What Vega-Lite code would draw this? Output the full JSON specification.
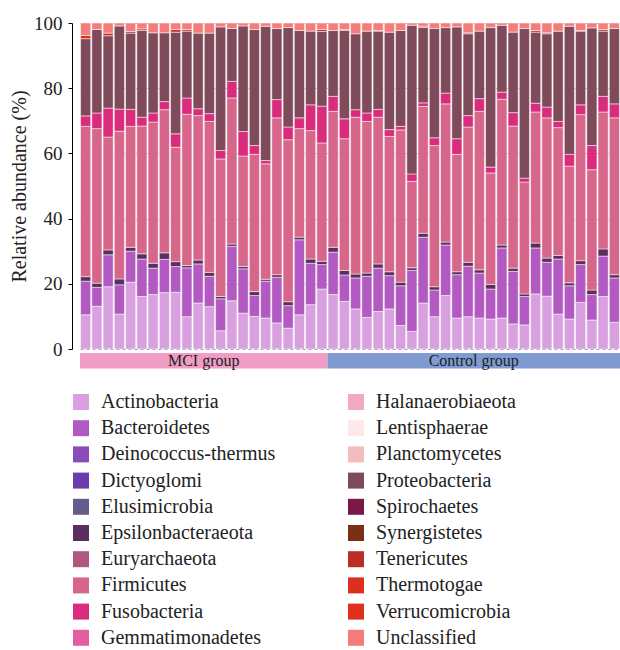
{
  "$schema": "https://vega.github.io/schema/vega-lite/v6.json",
  "padding": {"left": 9, "top": 14, "right": 0, "bottom": 0},
  "bounds": "flush",
  "spacing": 4,
  "config": {"font": "Liberation Serif", "view": {"stroke": null}},
  "datasets": {
    "samples": [
      {"sample":"M1","group":"MCI group","Actinobacteria":10.5,"Bacteroidetes":10.3,"Epsilonbacteraeota":1.4,"Firmicutes":46.1,"Fusobacteria":3.2,"Proteobacteria":23.7,"Verrucomicrobia":1.0,"Unclassified":3.8},
      {"sample":"M2","group":"MCI group","Actinobacteria":13.1,"Bacteroidetes":5.8,"Epsilonbacteraeota":1.3,"Firmicutes":47.4,"Fusobacteria":4.8,"Proteobacteria":25.6,"Unclassified":2.0},
      {"sample":"M3","group":"MCI group","Actinobacteria":19.1,"Bacteroidetes":9.8,"Epsilonbacteraeota":1.5,"Firmicutes":34.6,"Fusobacteria":8.9,"Proteobacteria":22.2,"Tenericutes":0.8,"Unclassified":3.1},
      {"sample":"M4","group":"MCI group","Actinobacteria":10.7,"Bacteroidetes":9.0,"Epsilonbacteraeota":1.8,"Firmicutes":45.3,"Fusobacteria":6.8,"Proteobacteria":25.5,"Unclassified":0.9},
      {"sample":"M5","group":"MCI group","Actinobacteria":20.5,"Bacteroidetes":9.5,"Epsilonbacteraeota":1.2,"Firmicutes":37.1,"Fusobacteria":5.2,"Proteobacteria":23.4,"Tenericutes":0.5,"Unclassified":2.6},
      {"sample":"M6","group":"MCI group","Actinobacteria":16.1,"Bacteroidetes":11.5,"Epsilonbacteraeota":1.6,"Firmicutes":39.2,"Fusobacteria":2.7,"Proteobacteria":26.6,"Tenericutes":0.5,"Unclassified":1.8},
      {"sample":"M7","group":"MCI group","Actinobacteria":16.7,"Bacteroidetes":8.1,"Epsilonbacteraeota":1.5,"Firmicutes":43.3,"Fusobacteria":2.8,"Proteobacteria":24.6,"Unclassified":3.0},
      {"sample":"M8","group":"MCI group","Actinobacteria":17.3,"Bacteroidetes":10.2,"Epsilonbacteraeota":2.0,"Firmicutes":43.9,"Fusobacteria":2.5,"Proteobacteria":21.1,"Unclassified":3.0},
      {"sample":"M9","group":"MCI group","Actinobacteria":17.4,"Bacteroidetes":7.9,"Epsilonbacteraeota":1.5,"Firmicutes":35.1,"Fusobacteria":4.1,"Proteobacteria":31.2,"Tenericutes":0.8,"Unclassified":2.0},
      {"sample":"M10","group":"MCI group","Actinobacteria":9.9,"Bacteroidetes":15.0,"Epsilonbacteraeota":0.7,"Firmicutes":46.4,"Fusobacteria":5.0,"Proteobacteria":20.5,"Tenericutes":0.5,"Unclassified":2.0},
      {"sample":"M11","group":"MCI group","Actinobacteria":14.1,"Bacteroidetes":12.0,"Epsilonbacteraeota":1.2,"Firmicutes":44.3,"Fusobacteria":2.1,"Proteobacteria":23.2,"Unclassified":3.1},
      {"sample":"M12","group":"MCI group","Actinobacteria":13.0,"Bacteroidetes":9.3,"Epsilonbacteraeota":1.2,"Firmicutes":46.3,"Fusobacteria":2.4,"Proteobacteria":24.7,"Unclassified":3.1},
      {"sample":"M13","group":"MCI group","Actinobacteria":5.6,"Bacteroidetes":9.8,"Epsilonbacteraeota":0.7,"Firmicutes":42.2,"Fusobacteria":2.6,"Proteobacteria":37.9,"Unclassified":1.2},
      {"sample":"M14","group":"MCI group","Actinobacteria":14.8,"Bacteroidetes":16.7,"Epsilonbacteraeota":0.7,"Firmicutes":44.8,"Fusobacteria":5.1,"Proteobacteria":16.2,"Unclassified":1.7},
      {"sample":"M15","group":"MCI group","Actinobacteria":11.0,"Bacteroidetes":13.6,"Epsilonbacteraeota":0.7,"Firmicutes":33.9,"Fusobacteria":7.5,"Proteobacteria":32.4,"Unclassified":0.9},
      {"sample":"M16","group":"MCI group","Actinobacteria":10.0,"Bacteroidetes":6.4,"Epsilonbacteraeota":1.2,"Firmicutes":42.1,"Fusobacteria":2.7,"Proteobacteria":35.6,"Unclassified":2.0},
      {"sample":"M17","group":"MCI group","Actinobacteria":9.5,"Bacteroidetes":11.3,"Epsilonbacteraeota":0.6,"Firmicutes":35.4,"Fusobacteria":1.0,"Proteobacteria":41.2,"Unclassified":1.0},
      {"sample":"M18","group":"MCI group","Actinobacteria":8.0,"Bacteroidetes":14.0,"Epsilonbacteraeota":0.8,"Firmicutes":48.1,"Fusobacteria":5.6,"Proteobacteria":21.8,"Unclassified":1.7},
      {"sample":"M19","group":"MCI group","Actinobacteria":6.4,"Bacteroidetes":6.9,"Epsilonbacteraeota":1.2,"Firmicutes":49.7,"Fusobacteria":3.9,"Proteobacteria":30.5,"Unclassified":1.4},
      {"sample":"M20","group":"MCI group","Actinobacteria":10.5,"Bacteroidetes":23.0,"Epsilonbacteraeota":0.8,"Firmicutes":33.3,"Fusobacteria":3.3,"Proteobacteria":26.8,"Unclassified":2.3},
      {"sample":"M21","group":"MCI group","Actinobacteria":13.6,"Bacteroidetes":12.7,"Epsilonbacteraeota":1.3,"Firmicutes":39.4,"Fusobacteria":7.9,"Proteobacteria":22.6,"Unclassified":2.5},
      {"sample":"M22","group":"MCI group","Actinobacteria":18.4,"Bacteroidetes":7.5,"Epsilonbacteraeota":1.0,"Firmicutes":36.3,"Fusobacteria":11.3,"Proteobacteria":22.9,"Tenericutes":0.6,"Unclassified":2.0},
      {"sample":"C1","group":"Control group","Actinobacteria":16.7,"Bacteroidetes":13.0,"Epsilonbacteraeota":1.5,"Firmicutes":41.7,"Fusobacteria":4.6,"Proteobacteria":20.2,"Unclassified":2.3},
      {"sample":"C2","group":"Control group","Actinobacteria":14.6,"Bacteroidetes":8.1,"Epsilonbacteraeota":1.4,"Firmicutes":40.4,"Fusobacteria":6.1,"Proteobacteria":27.1,"Tenericutes":0.3,"Unclassified":2.0},
      {"sample":"C3","group":"Control group","Actinobacteria":12.3,"Bacteroidetes":9.5,"Epsilonbacteraeota":1.2,"Firmicutes":48.1,"Fusobacteria":2.3,"Proteobacteria":23.3,"Unclassified":3.3},
      {"sample":"C4","group":"Control group","Actinobacteria":9.7,"Bacteroidetes":12.6,"Epsilonbacteraeota":1.0,"Firmicutes":46.5,"Fusobacteria":2.6,"Proteobacteria":25.1,"Unclassified":2.5},
      {"sample":"C5","group":"Control group","Actinobacteria":11.5,"Bacteroidetes":13.3,"Epsilonbacteraeota":1.3,"Firmicutes":45.0,"Fusobacteria":2.4,"Proteobacteria":24.0,"Tenericutes":0.2,"Unclassified":2.3},
      {"sample":"C6","group":"Control group","Actinobacteria":12.3,"Bacteroidetes":10.2,"Epsilonbacteraeota":1.2,"Firmicutes":41.5,"Fusobacteria":2.1,"Proteobacteria":29.9,"Unclassified":2.8},
      {"sample":"C7","group":"Control group","Actinobacteria":7.2,"Bacteroidetes":12.2,"Epsilonbacteraeota":1.1,"Firmicutes":46.7,"Fusobacteria":1.1,"Proteobacteria":29.4,"Unclassified":2.3},
      {"sample":"C8","group":"Control group","Actinobacteria":5.4,"Bacteroidetes":18.7,"Epsilonbacteraeota":0.8,"Firmicutes":26.5,"Fusobacteria":2.3,"Proteobacteria":45.6,"Unclassified":0.7},
      {"sample":"C9","group":"Control group","Actinobacteria":14.1,"Bacteroidetes":20.2,"Epsilonbacteraeota":1.2,"Firmicutes":38.9,"Fusobacteria":1.1,"Proteobacteria":23.1,"Tenericutes":0.4,"Unclassified":1.0},
      {"sample":"C10","group":"Control group","Actinobacteria":9.9,"Bacteroidetes":8.2,"Epsilonbacteraeota":1.0,"Firmicutes":43.3,"Fusobacteria":2.4,"Proteobacteria":33.5,"Unclassified":1.7},
      {"sample":"C11","group":"Control group","Actinobacteria":16.4,"Bacteroidetes":15.5,"Epsilonbacteraeota":0.9,"Firmicutes":42.4,"Fusobacteria":3.3,"Proteobacteria":20.1,"Unclassified":1.4},
      {"sample":"C12","group":"Control group","Actinobacteria":9.5,"Bacteroidetes":13.3,"Epsilonbacteraeota":0.9,"Firmicutes":36.0,"Fusobacteria":4.8,"Proteobacteria":34.3,"Unclassified":1.2},
      {"sample":"C13","group":"Control group","Actinobacteria":9.9,"Bacteroidetes":15.5,"Epsilonbacteraeota":1.2,"Firmicutes":41.5,"Fusobacteria":3.5,"Proteobacteria":25.1,"Tenericutes":0.3,"Unclassified":3.0},
      {"sample":"C14","group":"Control group","Actinobacteria":9.5,"Bacteroidetes":13.8,"Epsilonbacteraeota":1.0,"Firmicutes":48.6,"Fusobacteria":3.9,"Proteobacteria":20.7,"Unclassified":2.5},
      {"sample":"C15","group":"Control group","Actinobacteria":9.2,"Bacteroidetes":9.2,"Epsilonbacteraeota":1.4,"Firmicutes":34.2,"Fusobacteria":1.8,"Proteobacteria":42.8,"Unclassified":1.4},
      {"sample":"C16","group":"Control group","Actinobacteria":9.5,"Bacteroidetes":21.5,"Epsilonbacteraeota":0.9,"Firmicutes":44.7,"Fusobacteria":2.2,"Proteobacteria":20.5,"Unclassified":0.7},
      {"sample":"C17","group":"Control group","Actinobacteria":7.7,"Bacteroidetes":16.1,"Epsilonbacteraeota":1.0,"Firmicutes":43.6,"Fusobacteria":4.1,"Proteobacteria":24.7,"Unclassified":2.8},
      {"sample":"C18","group":"Control group","Actinobacteria":7.4,"Bacteroidetes":8.7,"Epsilonbacteraeota":0.8,"Firmicutes":34.3,"Fusobacteria":1.2,"Proteobacteria":45.9,"Unclassified":1.7},
      {"sample":"C19","group":"Control group","Actinobacteria":16.9,"Bacteroidetes":14.1,"Epsilonbacteraeota":1.5,"Firmicutes":40.2,"Fusobacteria":2.7,"Proteobacteria":21.8,"Tenericutes":0.5,"Unclassified":2.3},
      {"sample":"C20","group":"Control group","Actinobacteria":16.2,"Bacteroidetes":10.4,"Epsilonbacteraeota":1.3,"Firmicutes":43.0,"Fusobacteria":3.3,"Proteobacteria":22.5,"Tenericutes":0.3,"Unclassified":3.0},
      {"sample":"C21","group":"Control group","Actinobacteria":10.7,"Bacteroidetes":16.9,"Epsilonbacteraeota":1.1,"Firmicutes":39.2,"Fusobacteria":1.9,"Proteobacteria":27.7,"Unclassified":2.5},
      {"sample":"C22","group":"Control group","Actinobacteria":9.2,"Bacteroidetes":10.2,"Epsilonbacteraeota":0.9,"Firmicutes":35.8,"Fusobacteria":3.6,"Proteobacteria":39.3,"Unclassified":1.0},
      {"sample":"C23","group":"Control group","Actinobacteria":14.3,"Bacteroidetes":11.6,"Epsilonbacteraeota":1.2,"Firmicutes":44.8,"Fusobacteria":3.0,"Proteobacteria":22.6,"Tenericutes":0.2,"Unclassified":2.3},
      {"sample":"C24","group":"Control group","Actinobacteria":8.9,"Bacteroidetes":7.8,"Epsilonbacteraeota":1.4,"Firmicutes":36.9,"Fusobacteria":7.4,"Proteobacteria":36.1,"Unclassified":1.5},
      {"sample":"C25","group":"Control group","Actinobacteria":16.1,"Bacteroidetes":12.4,"Epsilonbacteraeota":2.2,"Firmicutes":42.0,"Fusobacteria":4.8,"Proteobacteria":20.0,"Tenericutes":0.5,"Unclassified":2.0},
      {"sample":"C26","group":"Control group","Actinobacteria":8.2,"Bacteroidetes":13.6,"Epsilonbacteraeota":1.0,"Firmicutes":48.1,"Fusobacteria":4.3,"Proteobacteria":23.1,"Unclassified":1.7}
    ]
  },
  "vconcat": [
    {
      "width": 540,
      "height": 326,
      "data": {"name": "samples"},
      "transform": [
        {"fold": ["Actinobacteria","Bacteroidetes","Epsilonbacteraeota","Firmicutes","Fusobacteria","Proteobacteria","Tenericutes","Verrucomicrobia","Unclassified"], "as": ["phylum","value"]},
        {"filter": "isValid(datum.value) && datum.value > 0"},
        {"calculate": "indexof(['Actinobacteria','Bacteroidetes','Deinococcus-thermus','Dictyoglomi','Elusimicrobia','Epsilonbacteraeota','Euryarchaeota','Firmicutes','Fusobacteria','Gemmatimonadetes','Halanaerobiaeota','Lentisphaerae','Planctomycetes','Proteobacteria','Spirochaetes','Synergistetes','Tenericutes','Thermotogae','Verrucomicrobia','Unclassified'], datum.phylum)", "as": "ord"}
      ],
      "mark": {"type": "bar", "stroke": "white", "strokeWidth": 0.5},
      "encoding": {
        "x": {"field": "sample", "type": "nominal", "sort": null, "axis": null,
              "scale": {"paddingInner": 0.1, "paddingOuter": 0.05}},
        "y": {"field": "value", "type": "quantitative", "stack": "zero",
              "scale": {"domain": [0, 100], "nice": false, "clamp": true},
              "axis": {"title": "Relative abundance (%)", "values": [0, 20, 40, 60, 80, 100],
                       "offset": 8, "domainColor": "#000", "tickColor": "#000", "tickSize": 4,
                       "labelFont": "Liberation Serif", "labelFontSize": 19, "labelColor": "#222", "labelPadding": 6,
                       "titleFont": "Liberation Serif", "titleFontSize": 20, "titleFontWeight": "normal", "titleColor": "#222", "titlePadding": 4,
                       "grid": true, "gridDash": [3, 3], "gridColor": "#777", "gridWidth": 0.8}},
        "order": {"field": "ord", "type": "quantitative"},
        "color": {"field": "phylum", "type": "nominal",
                  "scale": {
                    "domain": ["Actinobacteria","Bacteroidetes","Deinococcus-thermus","Dictyoglomi","Elusimicrobia","Epsilonbacteraeota","Euryarchaeota","Firmicutes","Fusobacteria","Gemmatimonadetes","Halanaerobiaeota","Lentisphaerae","Planctomycetes","Proteobacteria","Spirochaetes","Synergistetes","Tenericutes","Thermotogae","Verrucomicrobia","Unclassified"],
                    "range": ["#D9A0E0","#B25AC2","#8A4CB8","#6A3BAD","#675A8C","#5C2E5E","#AE5880","#D6668A","#DA2C7C","#E55DA0","#EEA9C3","#FDE9E7","#F3BDBE","#7F4A59","#7B1848","#7A2F17","#BF2C26","#DD2E1E","#E02F1C","#F47D7C"]
                  },
                  "legend": {"title": null, "orient": "none", "legendX": -9, "legendY": 369,
                             "columns": 2, "columnPadding": 70, "rowPadding": 6.2,
                             "symbolType": "square", "symbolSize": 256, "symbolStrokeWidth": 0,
                             "labelFont": "Liberation Serif", "labelFontSize": 20, "labelColor": "#222",
                             "labelOffset": 10, "labelLimit": 400}}
      }
    },
    {
      "width": 540,
      "height": 15.6,
      "data": {"name": "samples"},
      "transform": [
        {"window": [{"op": "row_number", "as": "idx"}]},
        {"aggregate": [{"op": "min", "field": "idx", "as": "lo"}, {"op": "max", "field": "idx", "as": "hi"}], "groupby": ["group"]},
        {"calculate": "datum.lo - 1", "as": "x0"},
        {"calculate": "(datum.lo - 1 + datum.hi) / 2", "as": "mid"}
      ],
      "layer": [
        {
          "mark": {"type": "rect"},
          "encoding": {
            "x": {"field": "x0", "type": "quantitative", "axis": null, "scale": {"domain": [0, 48], "nice": false, "zero": false}},
            "x2": {"field": "hi"},
            "color": {"field": "group", "type": "nominal", "legend": null,
                      "scale": {"domain": ["MCI group", "Control group"], "range": ["#F09CC4", "#7F9BD2"]}}
          }
        },
        {
          "mark": {"type": "text", "font": "Liberation Serif", "fontSize": 16, "color": "#222", "baseline": "middle", "dy": 0.5},
          "encoding": {
            "x": {"field": "mid", "type": "quantitative"},
            "text": {"field": "group"}
          }
        }
      ]
    }
  ],
  "resolve": {"scale": {"x": "independent", "color": "independent"}}
}
